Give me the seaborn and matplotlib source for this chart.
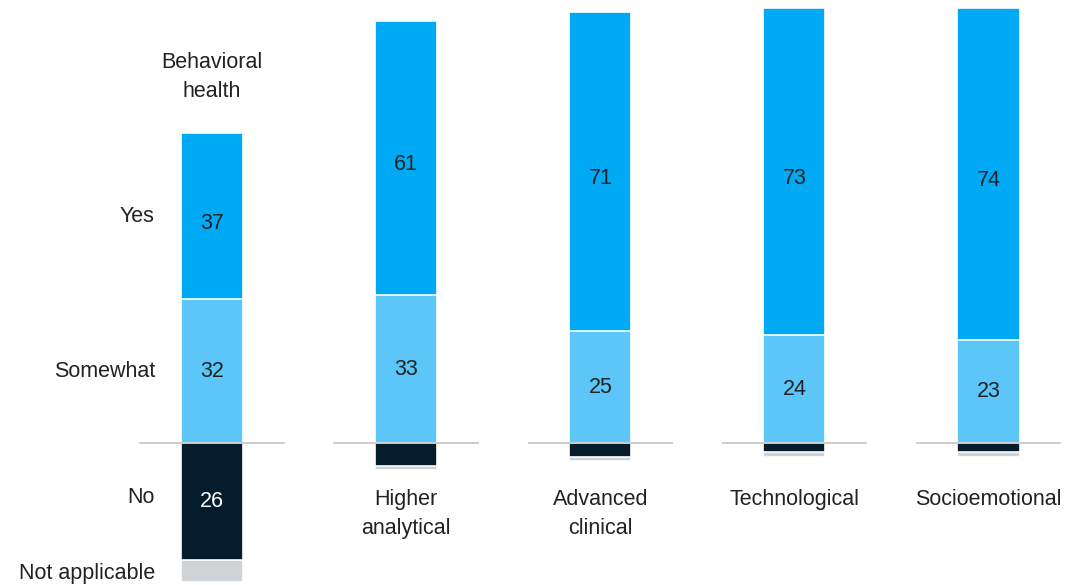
import numpy as np
import pandas as pd
import seaborn as sns
import matplotlib.pyplot as plt

# datos (porcentajes)
skills = ['Behavioral\nhealth', 'Higher\nanalytical', 'Advanced\nclinical', 'Technological', 'Socioemotional']
yes = [37, 61, 71, 73, 74]
somewhat = [32, 33, 25, 24, 23]
no = [26, 5, 3, 2, 2]
not_applicable = [5, 1, 1, 1, 1]
row_labels = ['Yes', 'Somewhat', 'No', 'Not applicable']

colors = {'Yes': '#00A9F4', 'Somewhat': '#5BC6F7', 'No': '#051C2C', 'Not applicable': '#D0D3D6'}
text_color = '#222222'

sns.set_style('white')
plt.rcParams['font.family'] = ['Liberation Sans', 'DejaVu Sans']

df = pd.DataFrame({
    'skill': skills,
    'yes': yes,
    'somewhat': somewhat,
    'no': no,
    'na': not_applicable,
})
# barras acumuladas (se dibujan de mayor a menor para simular el apilado)
df['pos_total'] = df['yes'] + df['somewhat']
df['neg_total'] = -(df['no'] + df['na'])
df['neg_no'] = -df['no']

fig, ax = plt.subplots(figsize=(10.72, 5.85), dpi=100)
fig.subplots_adjust(left=0, right=1, bottom=0, top=1)

w = 0.32
common = dict(x='skill', order=skills, width=w, edgecolor='white', linewidth=1.2, ax=ax)
sns.barplot(data=df, y='pos_total', color=colors['Yes'], saturation=1, **common)
sns.barplot(data=df, y='somewhat', color=colors['Somewhat'], saturation=1, **common)
sns.barplot(data=df, y='neg_total', color=colors['Not applicable'], saturation=1, **common)
sns.barplot(data=df, y='neg_no', color=colors['No'], saturation=1, **common)

# línea base por barra
for i in range(len(skills)):
    ax.hlines(0, i - 0.375, i + 0.375, color='#C4C4C4', linewidth=1.2, zorder=3)

fs = 15.5
ls = 1.5
for i, row in df.iterrows():
    # valores dentro de las barras
    ax.text(i, row['somewhat'] + row['yes'] / 2 - 1.5, f"{row['yes']}", ha='center', va='center',
            fontsize=fs, color=text_color)
    ax.text(i, row['somewhat'] / 2, f"{row['somewhat']}", ha='center', va='center',
            fontsize=fs, color=text_color)
    if row['no'] >= 10:
        ax.text(i, -row['no'] / 2, f"{row['no']}", ha='center', va='center',
                fontsize=fs, color='white')
    # etiquetas de categoría
    if i == 0:
        ax.text(i, row['pos_total'] + 7, row['skill'], ha='center', va='bottom',
                fontsize=fs, color=text_color, linespacing=ls)
    else:
        ax.text(i, -10.3, row['skill'], ha='center', va='top',
                fontsize=fs, color=text_color, linespacing=ls)

# etiquetas de filas, alineadas con la primera barra
lx = -0.295
ax.text(lx, somewhat[0] + yes[0] / 2, row_labels[0], ha='right', va='center', fontsize=fs, color=text_color)
ax.text(lx, somewhat[0] / 2, row_labels[1], ha='right', va='center', fontsize=fs, color=text_color)
ax.text(lx, -12.2, row_labels[2], ha='right', va='center', fontsize=fs, color=text_color)
ax.text(lx, -no[0] - not_applicable[0] / 2 - 0.6, row_labels[3], ha='right', va='center',
        fontsize=fs, color=text_color)

ax.set_xlim(-1.093, 4.43)
ax.set_ylim(-31.6, 98.7)
ax.axis('off')

plt.savefig('out.png', dpi=100)
